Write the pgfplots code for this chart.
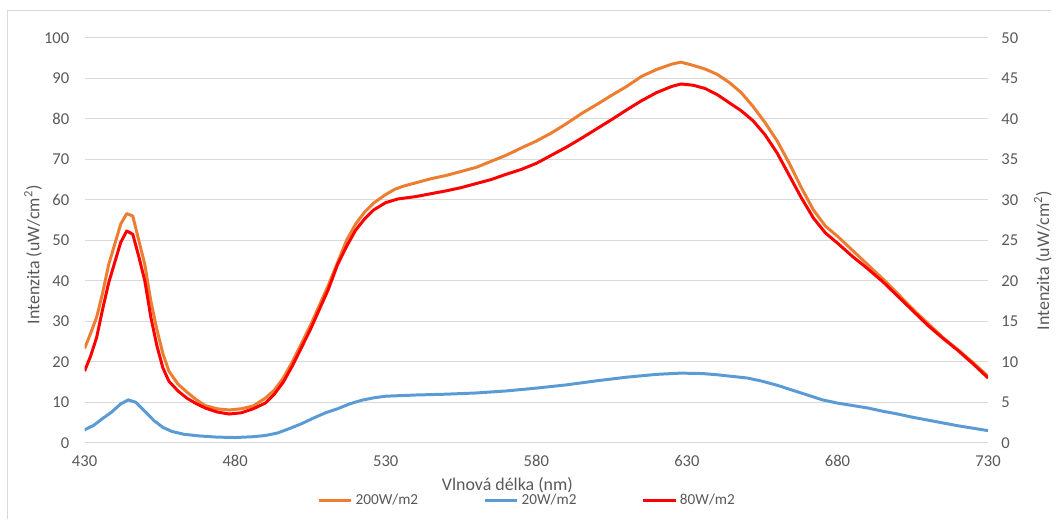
\documentclass[border=0pt]{standalone}
\usepackage{fontspec}
\setmainfont{Carlito}
\usepackage{pgfplots}
\pgfplotsset{compat=1.18}
\definecolor{c200}{HTML}{ED7D31}
\definecolor{c20}{HTML}{5B9BD5}
\definecolor{c80}{HTML}{FF0000}
\definecolor{gridc}{HTML}{D9D9D9}
\definecolor{txt}{HTML}{595959}

% 1 px of the reference = 0.75pt
\pgfplotsset{
  common/.style={
    at={(63.75pt,57.75pt)}, anchor=south west,
    width=681pt, height=305.25pt, scale only axis,
    xmin=430, xmax=730,
    axis line style={draw=none},
    tick style={draw=none},
    /pgf/number format/assume math mode=true,
    ticklabel style={font=\fontsize{12.5}{14}\selectfont, text=txt},
    label style={font=\fontsize{13.5}{15}\selectfont, text=txt},
  },
}

\begin{document}
\begin{tikzpicture}
\path (0pt,0pt) rectangle (792pt,391.5pt);
\draw[gridc, line width=0.75pt] (6pt,0pt) -- (6pt,383.25pt) -- (792pt,383.25pt);

\begin{axis}[common,
    ymin=0, ymax=100,
    xtick={430,480,...,730},
    ytick={0,10,...,100},
    ymajorgrids,
    grid style={gridc, line width=0.75pt},
    xticklabel style={yshift=-6pt},
    yticklabel style={xshift=-8pt},
    xlabel={Vlnová délka (nm)},
    xlabel style={at={(axis description cs:0.468,-0.104)}, anchor=center},
    ylabel={Intenzita (uW/cm\textsuperscript{2})},
    ylabel style={at={(axis description cs:-0.057,0.464)}, anchor=center},
    legend columns=3,
    legend style={at={(0.490,-0.142)}, anchor=center, draw=none, fill=none,
      font=\fontsize{11.5}{13}\selectfont, text=txt,
      /tikz/every even column/.append style={column sep=47pt},
      inner sep=0pt},
    legend image code/.code={\draw[#1] (0pt,0pt) -- (24.75pt,0pt);},
    every axis plot/.append style={line width=2.25pt, line join=round},
]
\addplot[c200] coordinates {
(430,23.3) (432,27) (434,31) (436,37) (438,44) (440,49) (442,54) (444,56.6)
(446,56) (448,50) (450,44) (452,35) (454,28) (456,22) (458,17.7) (461,14.5)
(464,12.5) (467,10.7) (470,9.2) (474,8.4) (478,8.1) (482,8.4) (486,9.1)
(490,11) (493,13) (496,16) (499,20) (502,24.5) (505,29) (508,34) (511,39)
(514,44.5) (517,50) (520,54) (523,57) (526,59.2) (530,61.3) (533,62.6)
(536,63.4) (540,64.2) (545,65.2) (550,66) (555,67) (560,68) (565,69.5)
(570,71) (575,72.8) (580,74.5) (585,76.5) (590,78.8) (595,81.3) (600,83.5)
(605,85.8) (610,88) (615,90.5) (620,92.2) (625,93.5) (628,94) (632,93.2)
(636,92.3) (640,91) (644,89) (648,86.5) (652,83) (656,79) (660,74.5)
(664,69) (668,63) (672,57.5) (676,53.5) (680,51) (685,47.5) (690,44)
(695,40.5) (700,36.8) (705,33) (710,29.5) (715,26) (720,23) (725,19.8) (730,16.4)
};
\addlegendentry{200W/m2}
\addplot[c20] coordinates {
(430,3.2) (433,4.3) (436,6) (439,7.6) (442,9.6) (444.5,10.6) (447,10)
(450,7.8) (453,5.5) (456,3.8) (459,2.8) (463,2.1) (468,1.7) (474,1.4)
(480,1.3) (486,1.5) (490,1.8) (494,2.4) (498,3.5) (502,4.7) (506,6.1)
(510,7.4) (514,8.4) (518,9.6) (522,10.5) (526,11.1) (530,11.5) (540,11.8)
(550,12) (560,12.3) (570,12.8) (580,13.5) (590,14.3) (600,15.3) (610,16.2)
(620,16.9) (628,17.2) (635,17.1) (640,16.8) (645,16.4) (650,16) (655,15.2)
(660,14.2) (665,13) (670,11.8) (675,10.6) (680,9.8) (685,9.2) (690,8.6)
(695,7.8) (700,7.1) (705,6.3) (710,5.6) (715,4.9) (720,4.2) (725,3.6) (730,3)
};
\addlegendentry{20W/m2}
\addplot[c80] coordinates {
(430,17.7) (432,21.4) (434,26) (436,33) (438,39.5) (440,44.5) (442,49.5)
(444,52.3) (446,51.5) (448,46) (450,40) (452,31) (454,24) (456,18.5)
(458,15.2) (461,12.8) (464,11) (467,9.7) (470,8.6) (474,7.6) (478,7.1)
(482,7.4) (486,8.4) (490,9.8) (493,12) (496,15) (499,19) (502,23.5)
(505,28) (508,33) (511,38) (514,44) (517,48.5) (520,52.5) (523,55.3)
(526,57.5) (530,59.3) (534,60.2) (540,60.8) (545,61.5) (550,62.2) (555,63)
(560,64) (565,65) (570,66.3) (575,67.5) (580,69) (585,71) (590,73)
(595,75.2) (600,77.5) (605,79.8) (610,82.2) (615,84.5) (620,86.5) (625,88)
(628,88.6) (632,88.3) (636,87.5) (640,86) (644,84) (648,82) (652,79.5)
(656,76) (660,71.5) (664,66) (668,60.5) (672,55.5) (676,51.8) (680,49.3)
(685,46) (690,43) (695,39.8) (700,36.2) (705,32.6) (710,29) (715,25.8)
(720,22.8) (725,19.5) (730,16)
};
\addlegendentry{80W/m2}
\end{axis}

\begin{axis}[common,
    ymin=0, ymax=50,
    axis x line=none,
    axis y line*=right,
    ytick={0,5,...,50},
    yticklabel style={xshift=6.5pt},
    ylabel={Intenzita (uW/cm\textsuperscript{2})},
    ylabel style={at={(axis description cs:1.0606,0.45)}, anchor=center},
]
\addplot[draw=none] coordinates {(430,0)};
\end{axis}
\end{tikzpicture}
\end{document}
